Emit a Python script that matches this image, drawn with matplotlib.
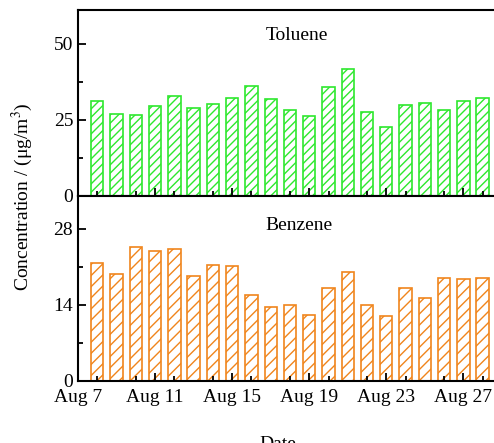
import matplotlib
matplotlib.use("Agg")
import matplotlib.pyplot as plt
from matplotlib.ticker import MultipleLocator

plt.rcParams['font.family'] = ['Liberation Serif', 'DejaVu Serif']
plt.rcParams['mathtext.fontset'] = 'stix'

# August day of each bar
days = [8, 9, 10, 11, 12, 13, 14, 15, 16, 17, 18, 19, 20, 21, 22, 23, 24, 25, 26, 27, 28]
toluene = [31.2, 26.9, 26.8, 29.7, 33.0, 28.9, 30.3, 32.1, 36.2, 31.8, 28.2,
           26.4, 36.0, 41.8, 27.7, 22.7, 29.9, 30.7, 28.2, 31.1, 32.3]
benzene = [21.7, 19.7, 24.6, 23.8, 24.3, 19.3, 21.4, 21.2, 15.8, 13.6, 13.9,
           12.1, 17.0, 20.0, 14.0, 11.9, 17.1, 15.2, 18.9, 18.7, 19.0]
tick_days = [7, 11, 15, 19, 23, 27]
tick_labels = ["Aug %d" % d for d in tick_days]

fig = plt.figure(figsize=(4.94, 4.43), dpi=100)
ax1 = fig.add_axes([0.158, 0.5576, 0.858, 0.42])
ax2 = fig.add_axes([0.158, 0.140, 0.858, 0.4176])

green = '#2ee82e'
orange = '#f0851c'

ax1.bar(days, toluene, width=0.64, color='white', edgecolor=green,
        hatch='////', linewidth=1.2)
ax2.bar(days, benzene, width=0.64, color='white', edgecolor=orange,
        hatch='///', linewidth=1.2)

ax1.set_ylim(0, 61.2)
ax1.yaxis.set_major_locator(MultipleLocator(25))
ax1.yaxis.set_minor_locator(MultipleLocator(12.5))
ax2.set_ylim(0, 34)
ax2.yaxis.set_major_locator(MultipleLocator(14))
ax2.yaxis.set_minor_locator(MultipleLocator(7))

for ax in (ax1, ax2):
    ax.set_xlim(7, 29)
    ax.set_xticks(tick_days)
    ax.xaxis.set_minor_locator(MultipleLocator(2))
    ax.tick_params(which='both', direction='in', labelsize=14, width=1.3)
    ax.tick_params(which='major', length=6)
    ax.tick_params(which='minor', length=3.5)
    ax.tick_params(axis='x', pad=6)
    for s in ax.spines.values():
        s.set_linewidth(1.5)

ax1.set_xticklabels([])
ax2.set_xticklabels(tick_labels)

ax1.text(0.517, 0.86, "Toluene", transform=ax1.transAxes, ha='center',
         va='center', fontsize=14)
ax2.text(0.52, 0.84, "Benzene", transform=ax2.transAxes, ha='center',
         va='center', fontsize=14)

fig.text(0.045, 0.557, "Concentration / (μg/m$^3$)", rotation=90,
         ha='center', va='center', fontsize=14)
ax2.set_xlabel("Date", fontsize=14)
ax2.xaxis.set_label_coords(0.472, -0.3)

fig.savefig("out.png", dpi=100)
